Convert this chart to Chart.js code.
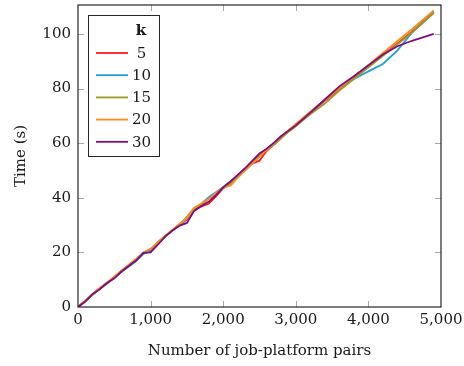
<!DOCTYPE html>
<html>
<head>
<meta charset="utf-8">
<script src="https://cdn.jsdelivr.net/npm/chart.js@4"></script>
<style>
  html, body { margin: 0; padding: 0; background: #fff; }
  #wrap { width: 464px; height: 366px; }
</style>
</head>
<body>
<div id="wrap"><canvas id="grafico" width="464" height="366"></canvas></div>
<script>
// x = number of job-platform pairs
var pairs = [0, 100, 200, 300, 400, 500, 600, 700, 800, 900, 1000, 1100, 1200, 1300, 1400, 1500, 1600, 1700, 1800, 1900, 2000,
  2100, 2200, 2300, 2400, 2500, 2600, 2700, 2800, 2900, 3000, 3200, 3400, 3600, 3800, 4000, 4200, 4400, 4600, 4900]

var k5 = [0, 2.2, 4.6, 6.8, 8.8, 10.9, 13.2, 15.2, 17.3, 19.6, 20.8, 23.5, 25.9, 28, 30, 32, 35.5, 36.8, 37.8, 40.5, 43.5,
  45.5, 47.8, 50.3, 52.5, 53.6, 57.2, 59.6, 62, 64.3, 66.3, 71, 75.5, 79.8, 84, 88, 92.3, 96.5, 100.8, 108]
var k10 = [0, 2.1, 4.5, 6.7, 8.6, 10.7, 12.9, 14.8, 16.8, 19.4, 20.6, 23.3, 25.8, 28, 30, 32.3, 36, 37.8, 40.2, 42, 44,
  46, 48.2, 50.5, 53, 55.4, 57.8, 60, 62.4, 64.6, 66.6, 71.3, 75.8, 80.5, 83.5, 86.3, 89, 94, 100.5, 107.8]
var k15 = [0, 2.2, 4.7, 6.9, 8.8, 11, 13.3, 15.3, 17.4, 19.9, 21.2, 23.8, 26, 28, 30.2, 33, 36.3, 37.5, 39.5, 41.5, 43.5,
  45, 47.5, 50, 52.5, 55.3, 57.5, 59.4, 61.8, 64.3, 66.3, 70.6, 74.5, 79.3, 83.5, 87.8, 92, 96.2, 100.5, 107.6]
var k20 = [0, 2.3, 4.8, 7, 9, 11.1, 13.4, 15.5, 17.6, 20, 21.3, 23.6, 26, 28.2, 30.5, 32.5, 36.3, 37.9, 39.6, 41.8, 43.8,
  44.4, 47.4, 50, 52.6, 55, 57.6, 60, 62.5, 64.8, 67, 71.5, 75.8, 80.2, 84.4, 88.6, 93, 97.4, 101.7, 108.6]
var k30 = [0, 2, 4.7, 6.5, 8.8, 10.5, 13, 15, 17, 19.8, 20, 22.8, 25.8, 28, 29.8, 30.8, 35.2, 37, 38.5, 41, 43.8,
  46, 48.4, 50.8, 53.5, 56.2, 58, 60.2, 62.6, 64.6, 66.5, 71.2, 76, 80.8, 84.5, 88.5, 92.5, 95.5, 97.5, 100]

var seriesNames = ['5', '10', '15', '20', '30']
var seriesValues = [k5, k10, k15, k20, k30]
var colors = ['#ff1a1a', '#1ba3d8', '#9c9a26', '#ff8a1f', '#800a80']

var xTicks = [0, 1000, 2000, 3000, 4000, 5000]
var yTicks = [0, 20, 40, 60, 80, 100]
var legendTitle = 'k'

var serif = "'DejaVu Serif', 'Liberation Serif', serif"

// box around the plot + ticks pointing inwards on all four sides
var frame = {
  id: 'frame',
  afterDatasetsDraw(chart) {
    var ctx = chart.ctx
    var a = chart.chartArea
    var xs = chart.scales.x, ys = chart.scales.y
    ctx.save()
    ctx.strokeStyle = '#a8a8a8'
    ctx.lineWidth = 1
    xs.ticks.forEach(function (t) {
      var px = Math.round(xs.getPixelForValue(t.value)) + 0.5
      if (px <= a.left + 1 || px >= a.right - 1) return
      ctx.beginPath()
      ctx.moveTo(px, a.bottom); ctx.lineTo(px, a.bottom - 6)
      ctx.moveTo(px, a.top); ctx.lineTo(px, a.top + 6)
      ctx.stroke()
    })
    ys.ticks.forEach(function (t) {
      var py = Math.round(ys.getPixelForValue(t.value)) + 0.5
      if (py >= a.bottom - 1) return
      ctx.beginPath()
      ctx.moveTo(a.left, py); ctx.lineTo(a.left + 6, py)
      ctx.moveTo(a.right, py); ctx.lineTo(a.right - 6, py)
      ctx.stroke()
    })
    ctx.strokeStyle = '#262626'
    ctx.lineWidth = 1.2
    ctx.strokeRect(a.left, a.top, a.right - a.left, a.bottom - a.top)
    ctx.restore()
  }
}

// pgfplots-like legend box in the upper left corner
var legendBox = {
  id: 'legendBox',
  afterDraw(chart) {
    var ctx = chart.ctx
    var x0 = 88.5, y0 = 15.5, w = 71, h = 141
    ctx.save()
    ctx.fillStyle = '#fff'
    ctx.fillRect(x0, y0, w, h)
    ctx.strokeStyle = '#262626'
    ctx.lineWidth = 1
    ctx.strokeRect(x0, y0, w, h)
    ctx.fillStyle = '#1a1a1a'
    ctx.textAlign = 'center'
    ctx.textBaseline = 'middle'
    ctx.font = 'bold 15px ' + serif
    ctx.fillText(legendTitle, 141, 31)
    ctx.font = '15px ' + serif
    chart.data.datasets.forEach(function (ds, i) {
      var y = 53 + i * 22.2
      ctx.strokeStyle = ds.borderColor
      ctx.lineWidth = 1.8
      ctx.beginPath()
      ctx.moveTo(96, y); ctx.lineTo(128, y)
      ctx.stroke()
      ctx.fillStyle = '#1a1a1a'
      ctx.fillText(ds.label, 141.5, y + 1)
    })
    ctx.restore()
  }
}

var datasets = seriesNames.map(function (name, i) {
  return {
    label: name,
    data: pairs.map(function (p, j) { return { x: p, y: seriesValues[i][j] } }),
    borderColor: colors[i],
    backgroundColor: colors[i],
    borderWidth: 1.8,
    pointRadius: 0,
    tension: 0,
    order: seriesNames.length - i
  }
})

new Chart(document.getElementById('grafico'), {
  type: 'line',
  data: { datasets: datasets },
  options: {
    responsive: false,
    animation: false,
    layout: { padding: { top: 5, right: 23, left: 0, bottom: 0 } },
    plugins: { legend: { display: false }, tooltip: { enabled: false } },
    scales: {
      x: {
        type: 'linear',
        min: 0,
        max: 5000,
        afterBuildTicks: function (s) { s.ticks = xTicks.map(function (v) { return { value: v } }) },
        afterFit: function (s) { s.height = 59; s.paddingLeft = 0; s.paddingRight = 0 },
        grid: { display: false, drawTicks: false },
        border: { display: false },
        ticks: {
          padding: 4,
          color: '#1a1a1a',
          font: { family: serif, size: 15 },
          maxRotation: 0,
          callback: function (v) { return v.toLocaleString('en-US') }
        },
        title: {
          display: true,
          text: 'Number of job-platform pairs',
          color: '#1a1a1a',
          font: { family: serif, size: 15 },
          padding: { top: 4, bottom: 6 }
        }
      },
      y: {
        min: 0,
        max: 110.6,
        afterBuildTicks: function (s) { s.ticks = yTicks.map(function (v) { return { value: v } }) },
        afterFit: function (s) { s.width = 78; s.paddingTop = 0; s.paddingBottom = 0 },
        grid: { display: false, drawTicks: false },
        border: { display: false },
        ticks: {
          padding: 7,
          color: '#1a1a1a',
          font: { family: serif, size: 15 }
        },
        title: {
          display: true,
          text: 'Time (s)',
          color: '#1a1a1a',
          font: { family: serif, size: 15 },
          padding: { top: 12, bottom: 0 }
        }
      }
    }
  },
  plugins: [frame, legendBox]
});
</script>
</body>
</html>
